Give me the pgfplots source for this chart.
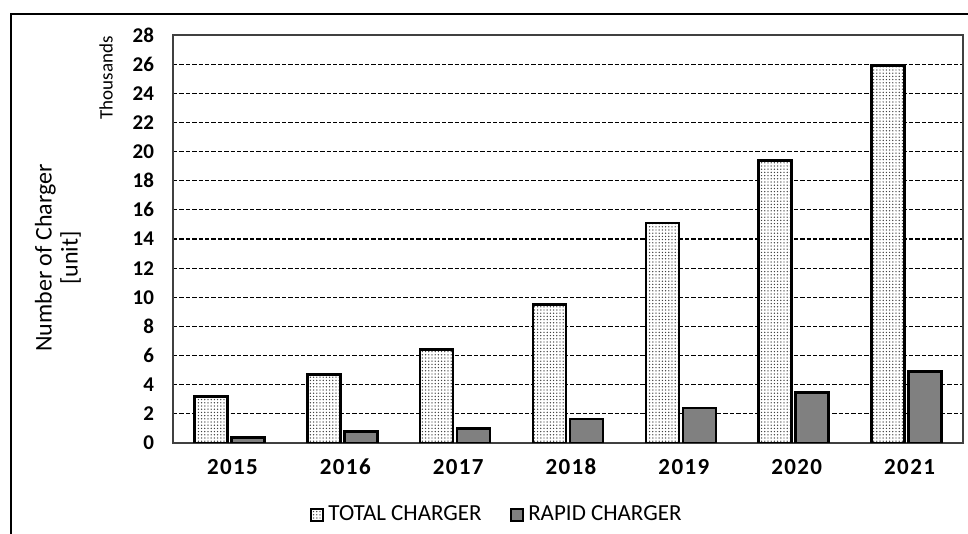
\documentclass[border=0pt]{standalone}
\usepackage{fontspec}
\setmainfont{Carlito}
\usepackage{pgfplots}
\pgfplotsset{compat=1.18}
\usetikzlibrary{patterns.meta}
\tikzdeclarepattern{
  name=smalldots,
  type=uncolored,
  bottom left={(-0.5pt,-0.5pt)},
  top right={(1.1pt,1.1pt)},
  tile size={(1.6pt,1.6pt)},
  code={\fill (0pt,0pt) circle (0.36pt);}
}
\definecolor{rapidgray}{RGB}{128,128,128}
\begin{document}
\begin{tikzpicture}
\path[use as bounding box] (0,0) rectangle (484pt,267pt);
\draw[line width=1pt] (5.5pt,-2pt) -- (5.5pt,260pt) -- (486pt,260pt);
\begin{axis}[
  at={(86.5pt,45.5pt)}, anchor=south west,
  width=395pt, height=204pt, scale only axis,
  ybar, bar width=16.5pt,
  xmin=-0.5, xmax=6.5,
  ymin=0, ymax=28,
  xtick={0,1,2,3,4,5,6},
  xticklabels={2015,2016,2017,2018,2019,2020,2021},
  ytick={0,2,...,28},
  major tick length=0pt,
  ymajorgrids,
  grid style={black, line width=0.6pt, dash pattern=on 2.2pt off 1pt},
  axis line style={black!75, line width=1pt},
  /pgf/number format/assume math mode=true,
  yticklabel style={font=\fontsize{10.5}{12}\selectfont\bfseries, xshift=-6pt},
  xticklabel style={font=\addfontfeatures{LetterSpace=6}\fontsize{11.5}{13}\selectfont\bfseries,
    text height=8pt, text depth=0pt, anchor=north, yshift=-4pt, xshift=1.5pt},
  legend style={at={(0.411,-0.176)}, anchor=center, draw=none, fill=none,
    legend columns=2, font=\fontsize{11.5}{13}\selectfont,
    /tikz/every even column/.append style={column sep=12pt},
    inner sep=0pt},
  legend image code/.code={\draw[#1] (0pt,-3pt) rectangle (6pt,3pt);},
]
\addplot[draw=black, line width=1.3pt, fill=white,
  postaction={pattern=smalldots, pattern color=black!75}]
  coordinates {(0,3.2) (1,4.7) (2,6.4) (3,9.5) (4,15.1) (5,19.4) (6,25.9)};
\addlegendentry{TOTAL CHARGER}
\addplot[draw=black, line width=1.3pt, fill=rapidgray]
  coordinates {(0,0.37) (1,0.8) (2,1.0) (3,1.65) (4,2.4) (5,3.45) (6,4.9)};
\addlegendentry{RAPID CHARGER}
\end{axis}
\node[rotate=90, align=center, font=\fontsize{12}{13}\selectfont] at (29pt,138pt) {Number of Charger\\{[unit]}};
\node[rotate=90, font=\fontsize{9.5}{11}\selectfont] at (53pt,228pt) {Thousands};
\end{tikzpicture}
\end{document}
